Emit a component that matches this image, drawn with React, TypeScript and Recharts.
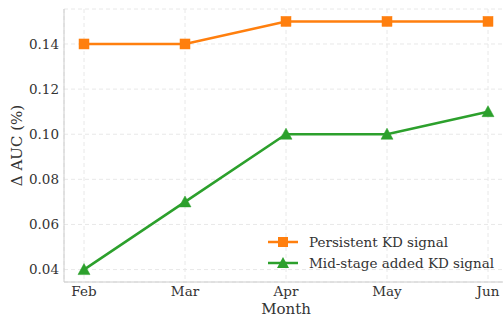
import {
  LineChart,
  Line,
  XAxis,
  YAxis,
  CartesianGrid,
} from "recharts";

const months = ["Feb", "Mar", "Apr", "May", "Jun"];
const persistent = [0.14, 0.14, 0.15, 0.15, 0.15];
const midStage = [0.04, 0.07, 0.1, 0.1, 0.11];
const yTicks = [0.04, 0.06, 0.08, 0.1, 0.12, 0.14];

const ORANGE = "#ff7f0e";
const GREEN = "#2ca02c";
const FONT = "'DejaVu Serif', serif";
const TEXT = "#333333";
const FRAME = "#cccccc";

const data = months.map((m, i) => ({
  month: m,
  persistent: persistent[i],
  midStage: midStage[i],
}));

const Square = (props: any) => {
  const { cx, cy } = props;
  if (cx == null || cy == null) return null;
  return <rect x={cx - 5} y={cy - 5} width={10} height={10} fill={ORANGE} stroke={ORANGE} strokeWidth={0.5} />;
};

const Triangle = (props: any) => {
  const { cx, cy } = props;
  if (cx == null || cy == null) return null;
  return (
    <polygon
      points={`${cx},${cy - 6} ${cx - 6},${cy + 5} ${cx + 6},${cy + 5}`}
      fill={GREEN}
      stroke={GREEN}
      strokeWidth={0.5}
    />
  );
};

const LegendBox = () => {
  const items = [
    { label: "Persistent KD signal", color: ORANGE, kind: "square" },
    { label: "Mid-stage added KD signal", color: GREEN, kind: "triangle" },
  ];
  return (
    <div
      style={{
        position: "absolute",
        left: 268,
        top: 231,
        fontFamily: FONT,
        fontSize: 13.5,
        color: TEXT,
      }}
    >
      {items.map((it) => (
        <div key={it.label} style={{ display: "flex", alignItems: "center", height: 21, whiteSpace: "nowrap" }}>
          <svg width={36} height={14} style={{ marginRight: 5 }}>
            <line x1={0} y1={7} x2={30} y2={7} stroke={it.color} strokeWidth={2.5} />
            {it.kind === "square" ? (
              <rect x={10} y={2} width={10} height={10} fill={it.color} />
            ) : (
              <polygon points="15,1 9,12 21,12" fill={it.color} />
            )}
          </svg>
          <span>{it.label}</span>
        </div>
      ))}
    </div>
  );
};

export default function App() {
  return (
    <div
      style={{
        position: "relative",
        width: 503,
        height: 318,
        overflow: "hidden",
        background: "#fff",
      }}
    >
      <style>{"body { margin: 0; }"}</style>
      <LineChart
        width={518}
        height={318}
        data={data}
        margin={{ top: 9, right: 10, bottom: 0, left: 0 }}
      >
        <CartesianGrid stroke="#e8e8e8" strokeDasharray="4 3" />
        <XAxis
          dataKey="month"
          scale="point"
          padding={{ left: 20, right: 20 }}
          height={36}
          stroke={FRAME}
          tickLine={false}
          tickSize={0}
          tickMargin={4}
          tick={{ fill: TEXT, fontSize: 13.5, fontFamily: FONT }}
          label={{ value: "Month", position: "insideBottom", offset: 4, fill: TEXT, fontSize: 15, fontFamily: FONT }}
        />
        <XAxis
          xAxisId="top"
          dataKey="month"
          orientation="top"
          height={0}
          tick={false}
          tickLine={false}
          stroke={FRAME}
        />
        <YAxis
          width={64}
          domain={[0.0345, 0.1555]}
          ticks={yTicks}
          type="number"
          allowDataOverflow
          stroke={FRAME}
          tickLine={false}
          tickSize={0}
          tickMargin={5}
          tickFormatter={(v: number) => v.toFixed(2)}
          tick={{ fill: TEXT, fontSize: 13.5, fontFamily: FONT }}
          label={{
            value: "Δ AUC (%)",
            angle: -90,
            position: "insideLeft",
            offset: 17,
            style: { textAnchor: "middle" },
            fill: TEXT,
            fontSize: 15,
            fontFamily: FONT,
          }}
        />
        <Line
          dataKey="persistent"
          stroke={ORANGE}
          strokeWidth={2.5}
          dot={<Square />}
          activeDot={false}
          isAnimationActive={false}
        />
        <Line
          dataKey="midStage"
          stroke={GREEN}
          strokeWidth={2.5}
          dot={<Triangle />}
          activeDot={false}
          isAnimationActive={false}
        />
      </LineChart>
      <LegendBox />
    </div>
  );
}
